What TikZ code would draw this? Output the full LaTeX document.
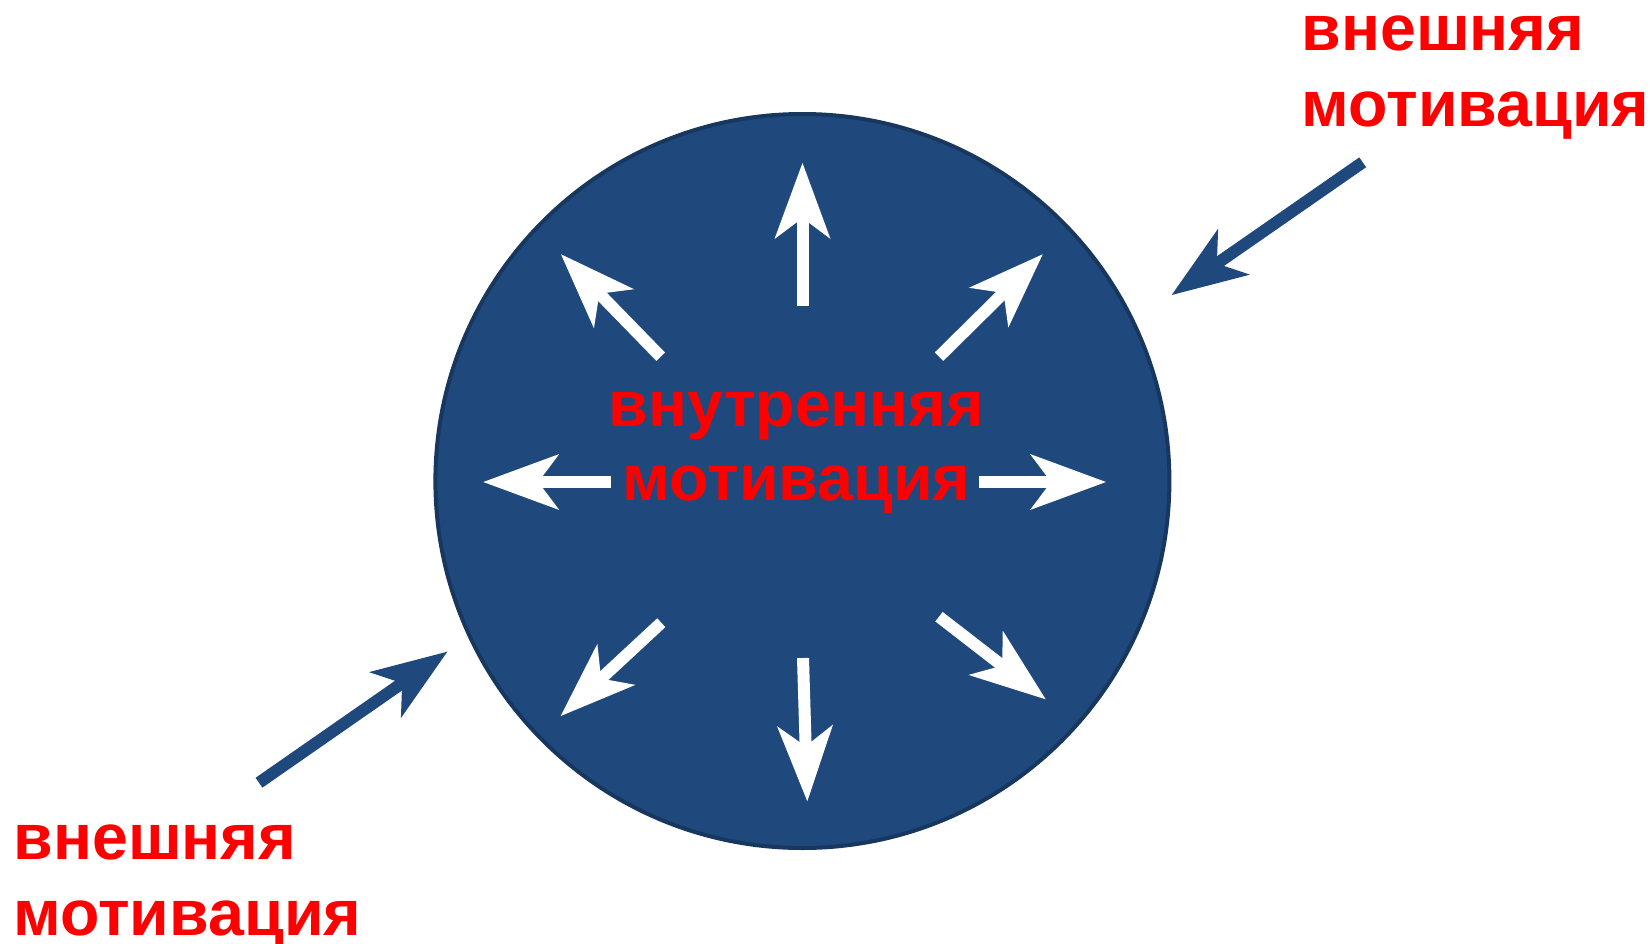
\documentclass[tikz,border=0pt]{standalone}
\usepackage{fontspec}
\setmainfont{Liberation Sans}
\usetikzlibrary{arrows.meta}
\definecolor{navy}{HTML}{1F497D}
\definecolor{navyedge}{HTML}{17375E}
\definecolor{txtred}{HTML}{FF0000}
\tikzset{
  tipstyle/.style={-{Stealth[length=76pt,width=56pt,inset=21pt,line width=0pt]}},
  whitearrow/.style={tipstyle, draw=white, line width=12pt},
  bluearrow/.style={tipstyle, draw=navy, line width=12pt},
  outertext/.style={text=txtred, font=\bfseries\fontsize{64.5}{76}\selectfont, align=left, inner sep=0pt, anchor=base west},
  innertext/.style={text=txtred, font=\bfseries\fontsize{64.5}{74.5}\selectfont, align=center, inner sep=0pt, anchor=base},
  disc/.style={circle, fill=navy, draw=navyedge, line width=4pt, minimum size=734pt, inner sep=0pt}
}
\begin{document}
\begin{tikzpicture}[x=1pt,y=-1pt]
\useasboundingbox (0,0) rectangle (1650,943);
\node[disc] (c) at (802.4,481) {};
% white arrows
\coordinate (uT) at (802.5,306);   \coordinate (uH) at (802.5,163);
\coordinate (ulT) at (660.7,356.7); \coordinate (ulH) at (561,254.3);
\coordinate (lT) at (611,482);     \coordinate (lH) at (483.3,482);
\coordinate (urT) at (939,356.7);  \coordinate (urH) at (1042.7,254.3);
\coordinate (rT) at (979.3,482);   \coordinate (rH) at (1106,482);
\coordinate (dlT) at (661.3,622.7); \coordinate (dlH) at (560.7,716);
\coordinate (dT) at (803,658);     \coordinate (dH) at (807.3,801.3);
\coordinate (drT) at (939,616.7);  \coordinate (drH) at (1045.7,699.3);
\draw[whitearrow] (uT) -- (uH);
\draw[whitearrow] (ulT) -- (ulH);
\draw[whitearrow] (lT) -- (lH);
\draw[whitearrow] (urT) -- (urH);
\draw[whitearrow] (rT) -- (rH);
\draw[whitearrow] (dlT) -- (dlH);
\draw[whitearrow] (dT) -- (dH);
\draw[whitearrow] (drT) -- (drH);
% texts (base anchor = baseline of the last line)
\node[innertext] (inner) at (796.5,500.5) {внутренняя\\мотивация};
\node[outertext] (ext1) at (1301.5,126.7) {внешняя\\мотивация};
\node[outertext] (ext2) at (13.5,935) {внешняя\\мотивация};
% blue arrows
\coordinate (b1T) at (1362.7,162.3); \coordinate (b1H) at (1171.7,295);
\coordinate (b2T) at (259,782.7);    \coordinate (b2H) at (447.3,651.7);
\draw[bluearrow] (b1T) -- (b1H);
\draw[bluearrow] (b2T) -- (b2H);
\end{tikzpicture}
\end{document}
